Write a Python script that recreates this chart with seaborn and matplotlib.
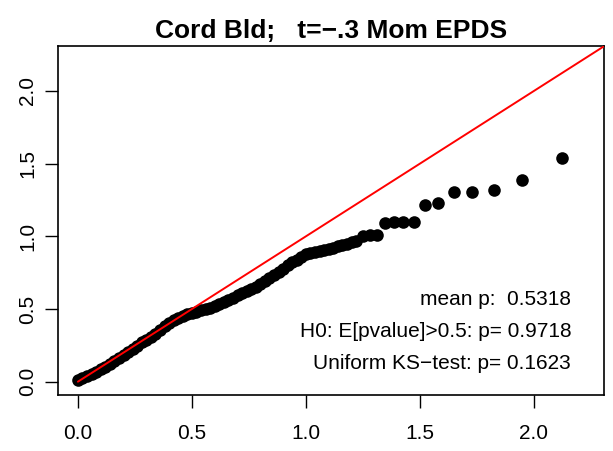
import matplotlib
matplotlib.use("Agg")

import matplotlib.pyplot as plt
import seaborn as sns

expected = [0.00, 0.02, 0.04, 0.06, 0.08, 0.10, 0.12, 0.14, 0.16, 0.18,
            0.20, 0.22, 0.24, 0.26, 0.28, 0.30, 0.32, 0.34, 0.36, 0.38,
            0.40, 0.42, 0.44, 0.46, 0.48, 0.50, 0.52, 0.54, 0.56, 0.58,
            0.60, 0.62, 0.64, 0.66, 0.68, 0.70, 0.72, 0.74, 0.76, 0.78,
            0.80, 0.82, 0.84, 0.86, 0.88, 0.90, 0.92, 0.94, 0.96, 0.98,
            1.00, 1.02, 1.04, 1.06, 1.08, 1.10, 1.12, 1.14, 1.16, 1.18,
            1.20, 1.22, 1.250, 1.280, 1.313, 1.347, 1.385, 1.427, 1.472,
            1.523, 1.581, 1.648, 1.727, 1.824, 1.949, 2.125]
observed = [0.010, 0.025, 0.040, 0.055, 0.070, 0.085, 0.100, 0.120, 0.140, 0.165,
            0.185, 0.205, 0.225, 0.245, 0.270, 0.290, 0.310, 0.330, 0.355, 0.385,
            0.405, 0.425, 0.440, 0.455, 0.465, 0.470, 0.480, 0.490, 0.500, 0.510,
            0.520, 0.535, 0.550, 0.560, 0.575, 0.595, 0.610, 0.625, 0.635, 0.650,
            0.670, 0.690, 0.710, 0.735, 0.755, 0.775, 0.800, 0.820, 0.840, 0.860,
            0.875, 0.885, 0.895, 0.900, 0.908, 0.915, 0.922, 0.930, 0.940, 0.950,
            0.960, 0.968, 1.000, 1.010, 1.010, 1.092, 1.095, 1.095, 1.099,
            1.217, 1.231, 1.303, 1.303, 1.319, 1.387, 1.540]

ref_line = [0.0, 2.5]           # y = x reference
ticks = [0.0, 0.5, 1.0, 1.5, 2.0]
tick_labels = ["0.0", "0.5", "1.0", "1.5", "2.0"]
lim = (-0.089, 2.309)

title = "Cord Bld;   t=\u2212.3 Mom EPDS"
stats_lines = ["mean p:  0.5318",
               "H0: E[pvalue]>0.5: p= 0.9718",
               "Uniform KS\u2212test: p= 0.1623"]
stats_y = [0.5625, 0.347, 0.125]

sns.set_style("white")
plt.rcParams["font.family"] = ["Liberation Sans", "DejaVu Sans"]
plt.rcParams["text.color"] = "black"

fig = plt.figure(figsize=(6.13, 4.51), dpi=100)
ax = fig.add_axes([0.094, 0.125, 0.892, 0.773])

sns.scatterplot(x=expected, y=observed, color="black", s=82,
                linewidth=0, ax=ax, zorder=2)
sns.lineplot(x=ref_line, y=ref_line, color="red", linewidth=1.4,
             ax=ax, zorder=3)

ax.set_xlim(lim)
ax.set_ylim(lim)
ax.set_xticks(ticks)
ax.set_xticklabels(tick_labels)
ax.set_yticks(ticks)
ax.set_yticklabels(tick_labels, rotation=90, va="center")
ax.tick_params(axis="both", direction="out", length=9.5, width=1.0,
               color="black", labelsize=15, labelcolor="black")
ax.tick_params(axis="x", pad=12)
ax.tick_params(axis="y", pad=5)
ax.tick_params(left=True, bottom=True)
for sp in ax.spines.values():
    sp.set_color("black")
    sp.set_linewidth(1.2)

for txt, yy in zip(stats_lines, stats_y):
    ax.text(2.163, yy, txt, ha="right", va="center", fontsize=15,
            color="black")

ax.set_title(title, fontsize=19, fontweight="bold", pad=6, color="black")

fig.savefig("out.png", dpi=100)
